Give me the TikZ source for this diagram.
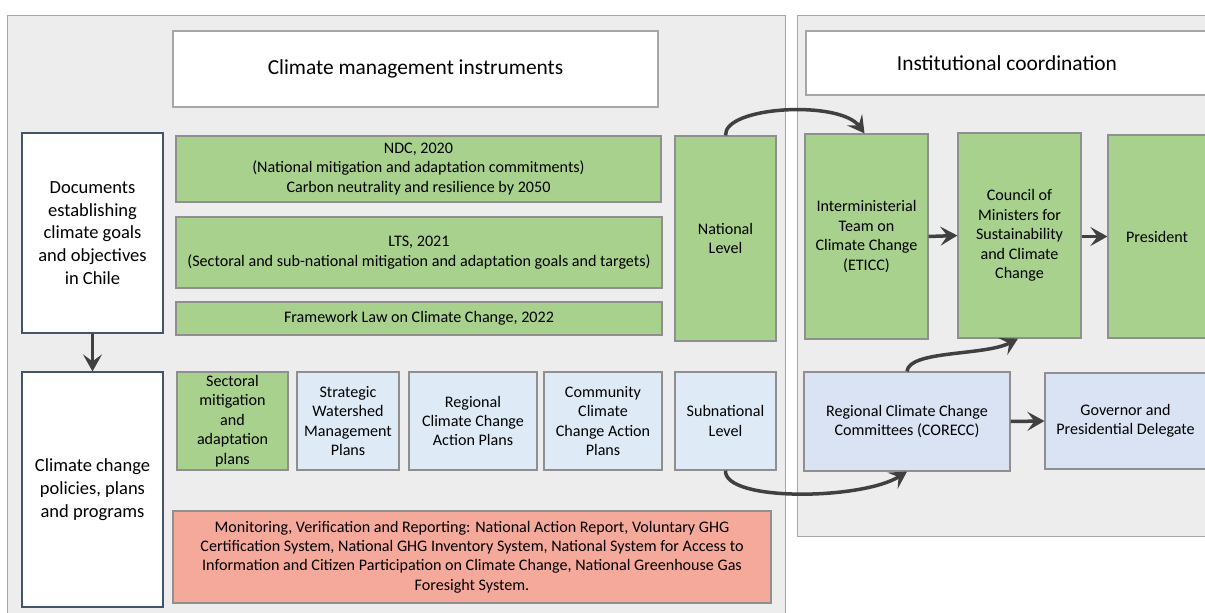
\documentclass[tikz,border=0pt]{standalone}
\usepackage{fontspec}
\setmainfont{Carlito}
\usetikzlibrary{arrows.meta}
\definecolor{panelfill}{HTML}{EDEDED}
\definecolor{panelline}{HTML}{A6A6A6}
\definecolor{boxline}{HTML}{8F8F8F}
\definecolor{greenfill}{HTML}{A9D18E}
\definecolor{bluefill}{HTML}{DEEBF7}
\definecolor{lavfill}{HTML}{DAE3F3}
\definecolor{redfill}{HTML}{F4A99B}
\definecolor{arrowcol}{HTML}{404040}
\definecolor{docline}{HTML}{44546A}
\tikzset{
  base/.style={draw=boxline, line width=1.2pt, inner sep=2pt, align=center, text=black, font=\fontsize{16.1}{19.4}\selectfont},
  panel/.style={draw=panelline, fill=panelfill, line width=1.3pt},
  titlebox/.style={base, fill=white, draw=panelline, font=\fontsize{21.4}{25}\selectfont},
  docbox/.style={base, fill=white, draw=docline, font=\fontsize{18.5}{22.7}\selectfont},
  greenbox/.style={base, fill=greenfill},
  bluebox/.style={base, fill=bluefill},
  lavbox/.style={base, fill=lavfill},
  redbox/.style={base, fill=redfill, draw=boxline},
  conn/.style={draw=arrowcol, line width=3.5pt, -{Stealth[length=17pt,width=19pt,inset=7pt]}},
}
\begin{document}
\begin{tikzpicture}[x=1pt,y=-1pt]
\useasboundingbox (0,0) rectangle (1205,613);
% panels
\node[panel, minimum width=778pt, minimum height=610pt, anchor=north west, inner sep=0pt] (leftpanel) at (7,15) {};
\node[panel, minimum width=420pt, minimum height=521pt, anchor=north west, inner sep=0pt] (rightpanel) at (797,15) {};
% titles
\node[titlebox, minimum width=485pt, minimum height=76pt] (titleL) at (415.5,69) {Climate management instruments};
\node[titlebox, minimum width=402pt, minimum height=64pt] (titleR) at (1007,63) {Institutional coordination};
% left column
\node[docbox, minimum width=141pt, minimum height=200pt] (docs) at (92.5,233) {Documents\\establishing\\climate goals\\and objectives\\in Chile};
\node[docbox, minimum width=141pt, minimum height=235pt] (policies) at (92.5,489.5) {Climate change\\policies, plans\\and programs};
% national instruments
\node[greenbox, minimum width=485pt, minimum height=66pt] (ndc) at (418.5,169) {NDC, 2020\\(National mitigation and adaptation commitments)\\Carbon neutrality and resilience by 2050};
\node[greenbox, minimum width=486pt, minimum height=71pt] (lts) at (419,252.5) {LTS, 2021\\(Sectoral and sub-national mitigation and adaptation goals and targets)};
\node[greenbox, minimum width=486pt, minimum height=33pt] (law) at (419,318.5) {Framework Law on Climate Change, 2022};
\node[greenbox, minimum width=101pt, minimum height=205pt] (natl) at (725.5,238.5) {National\\Level};
% subnational instruments
\node[greenbox, minimum width=111pt, minimum height=98pt] (sect) at (232.5,421) {Sectoral\\mitigation\\and\\adaptation\\plans};
\node[bluebox, minimum width=102pt, minimum height=98pt] (water) at (348,421) {Strategic\\Watershed\\Management\\Plans};
\node[bluebox, minimum width=128pt, minimum height=98pt] (regional) at (473,421) {Regional\\Climate Change\\Action Plans};
\node[bluebox, minimum width=118pt, minimum height=98pt] (community) at (603,421) {Community\\Climate\\Change Action\\Plans};
\node[bluebox, minimum width=101pt, minimum height=98pt] (subnat) at (725.5,421) {Subnational\\Level};
\node[redbox, minimum width=598pt, minimum height=92pt] (mrv) at (472,557) {Monitoring, Verification and Reporting: National Action Report, Voluntary GHG\\Certification System, National GHG Inventory System, National System for Access to\\Information and Citizen Participation on Climate Change, National Greenhouse Gas\\Foresight System.};
% institutions
\node[greenbox, minimum width=123pt, minimum height=205pt] (eticc) at (866.5,236.5) {Interministerial\\Team on\\Climate Change\\(ETICC)};
\node[greenbox, minimum width=123pt, minimum height=205pt] (council) at (1019.5,235.5) {Council of\\Ministers for\\Sustainability\\and Climate\\Change};
\node[greenbox, minimum width=98pt, minimum height=203pt] (president) at (1157,236.5) {President};
\node[lavbox, minimum width=206pt, minimum height=99pt] (corecc) at (907,421.5) {Regional Climate Change\\Committees (CORECC)};
\node[lavbox, minimum width=161pt, minimum height=96pt] (governor) at (1125.5,421) {Governor and\\Presidential Delegate};
% connectors
\draw[conn] (docs.south) -- (policies.north);
\draw[conn] (eticc.east) -- (council.west);
\draw[conn] (council.east |- eticc.east) -- (president.west |- eticc.east);
\draw[conn] (corecc.east) -- (governor.west);
\draw[conn] (natl.north) .. controls (724,106) and (840,100) .. ([xshift=-2pt]eticc.north);
\draw[conn] (subnat.south) .. controls (724,502) and (862,500) .. (corecc.south);
\draw[conn] (corecc.north) .. controls (909,350) and (985,356) .. ([xshift=-1.5pt]council.south);
\end{tikzpicture}
\end{document}
